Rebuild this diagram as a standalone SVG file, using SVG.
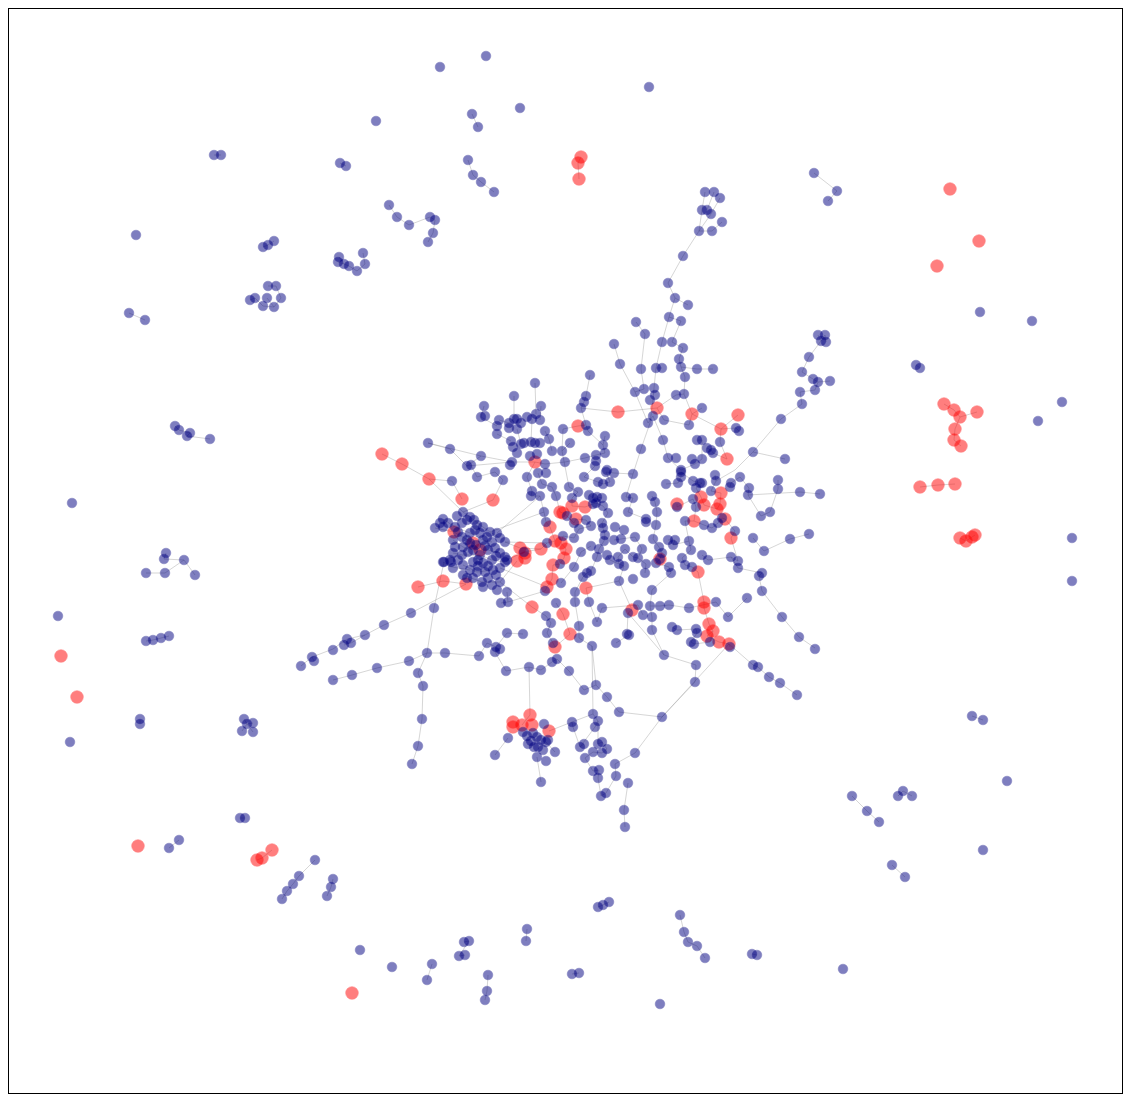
<svg xmlns="http://www.w3.org/2000/svg" width="1130" height="1101" viewBox="0 0 1130 1101">
<style>
.b{fill:#000080;stroke:#000080;stroke-width:0.6;opacity:0.5;r:4.8px}
.r{fill:#ff0000;stroke:#ff0000;stroke-width:0.6;opacity:0.5;r:6.3px}
.e{fill:none;stroke:#999999;stroke-width:1;opacity:0.4}
</style>
<rect x="0" y="0" width="1130" height="1101" fill="#ffffff"/>
<rect x="8.5" y="8.5" width="1114" height="1085" fill="none" stroke="#000" stroke-width="1"/>
<g id="connectors">
<path class="e" d="M472,114L478,127M468,160L473,175L481,182L494,192M214,155L221,155M340,163L346,166M389,205L397,217L409,225L430,217L435,220L433,233L428,242M263,247L268,245L274,241M339,257L344,264L349,266L357,271M363,253L365,264L357,271M338,262L344,264M268,286L276,286L281,298L274,307L263,306L255,298L250,300M267,298L274,307M129,313L145,320M814,173L837,191L828,201M916,365L920,368M175,426L179,430L190,433L187,436L210,439M166,553L164,559L184,560L195,575M146,573L165,573L184,560M146,641L153,640L161,638L169,636M140,719L140,724M244,719L247,724L253,723M242,731L247,724L253,732M972,716L983,720M852,796L867,811L879,822M898,796L903,791L912,796M169,848L179,840M240,818L245,818M315,860L299,876L293,884L287,891L282,899M333,879L331,887L327,896M892,865L905,877M598,907L603,905L609,902M680,915L684,932L688,942L697,946L705,958M464,942L469,941L459,956L465,955M527,929L526,941M488,975L487,991L485,1000M572,974L579,973M752,954L757,955M427,980L432,964M581,157L578,163L579,179M944,404L954,410L960,417L955,429L954,440L961,446M977,412L960,417M920,487L938,485L955,484M960,538L966,541L972,537L975,535M257,860L262,858L272,850"/>
<path class="e" d="M705,192L702,210L699,231L683,256L668,283L675,298L669,317L662,342L656,368L654,388L653,400L650,423L641,449M714,192L707,210M720,198L711,214L699,231M722,222L712,231L699,231M675,298L688,305M669,317L681,321L672,342L683,348L679,359L681,367L685,377L684,394L692,414M681,367L697,369L713,369M662,368L656,368M636,322L645,334L641,369L644,389L635,392M614,344L620,364L635,392L648,423L653,416M590,375L586,396L584,402L581,408L586,425L588,431L603,445L605,453M581,408L618,412L657,408L664,420L689,425L692,414L702,408M657,408L676,395L684,394M605,436L603,445M692,414L721,429L738,415M721,429L736,428L739,431M721,429L720,442L727,459L713,453L711,450L707,448M697,440L702,440L702,459L695,464L681,470L668,458L663,440L653,416M818,335L821,341L825,335L826,342M821,341L809,357L802,372L813,379L818,382L815,390L800,392L802,404L781,419L753,452L735,470L716,481M818,382L830,381M753,452L785,459M535,383L536,414M514,396L514,419M484,406L481,417L497,426M541,406L540,420M499,420L509,423L514,419M497,434L511,441M517,429L521,444M532,419L531,442M545,431L549,439L552,451M563,429L562,451L570,443M578,426L563,429M578,426L586,425M428,443L450,449L467,466L481,456L512,462L535,462L545,464L565,462L585,458L596,455L605,453M382,454L402,464L429,479L452,481L462,499M429,479L463,512M471,465L477,477L495,472L503,480L493,500L463,512M527,477L532,491L531,496L540,496L544,512L546,522L550,527L555,541L547,543L541,549L520,548L505,542M538,473L542,484L552,487L556,496L560,512L563,513L567,516L574,523L576,519L586,520L591,526L579,529L574,538L563,536L561,543L566,549L564,558L560,564L553,565L552,579L547,587L545,591M569,487L578,492L572,498L572,506L585,507L593,504L596,503L603,506L608,513L602,523L603,528L605,535L604,541L599,549L597,557L591,571L587,573L583,577L575,592L575,602L579,626L579,638L592,646M584,477L598,482L603,484L610,482L606,472L614,473L633,474L626,497L633,498L628,512L646,519L646,522M589,495L593,498L597,497L602,498M614,540L621,539L635,537L642,549L638,558L633,557L625,549L618,557L619,564L624,566L619,581L632,610L628,613L627,634L629,635L616,643M607,555L610,560L619,564M591,546L581,552L574,567L561,583M586,588L589,602L597,622L602,608M556,603L563,614L570,634L555,647L553,643L547,633L551,623L546,616L532,607M508,602L501,603M507,592L508,602M523,634L507,633L496,647L487,643L479,656L445,653L427,653L409,661L377,668L352,675L333,680M427,653L418,673L423,686L422,719L418,746L412,764M434,608L427,653M434,608L444,562M466,584L443,581L418,587M466,584L411,613L384,625L365,635L347,639L333,649L312,657L301,666M344,645L351,643L365,635M314,661L312,657M500,648L495,652L506,671L529,667L541,670L552,662L557,659L569,671L584,690L596,685L607,697L619,712M529,667L530,715L522,725M592,646L593,714L598,721L595,727L580,747L584,744M598,721L598,744L602,742L607,749L602,753L593,752L585,758L593,771L599,770L598,778L601,796L606,793L616,776L615,764L635,753L662,717L695,682L696,665L664,655L652,630M549,731L572,722L573,727L580,747M628,783L624,810L625,827M662,717L729,644L753,665L758,667L769,677L780,683L797,695M508,738L495,755M541,782L537,757M555,752L546,742M652,496L655,502L657,512L656,525L653,539L659,547L662,553L660,559L656,563L669,567L671,573L652,590L650,606L652,617L652,630M666,484L678,483L681,477L681,472L693,481L700,483L702,483L696,488L701,497L704,505L717,509L720,504L721,493L711,491L716,481L715,475M677,504L677,507L693,499L696,507L694,521L685,521L689,541L691,550L682,558L685,565L692,567L698,572L704,602L704,608L709,624L713,631L707,636L719,642L729,644L730,647M725,519L722,518L718,523L712,528L704,525L694,521M725,519L735,531L731,538L738,561L731,557L738,568L762,573L759,576L762,591L782,617L799,637L815,648M730,487L731,483L740,477L749,488L748,495L761,516L770,512L778,489L778,480M748,495L800,492L820,494M753,538L764,551L790,539L809,534M668,540L675,540L673,545L689,541M702,555L708,560L731,557M747,598L728,617L716,602L689,608L669,605L660,606L650,606M672,627L677,630L696,629L697,633L691,642L694,644L710,642L713,631M645,573L646,564L638,558M602,608L638,605L643,615M505,542L547,543M507,560L524,552L541,549M500,582L517,561M490,532L544,512M497,533L540,496M463,512L470,517L483,527L490,532L500,538M443,519L455,527L470,533L483,540L492,542M453,540L463,547L473,550L488,550L500,553M453,553L462,555L480,555L492,560L505,562M463,565L477,572L493,570M463,575L482,582L500,582M443,562L452,567L470,570M435,528L454,532L473,543L480,550M428,443L481,456M467,466L512,462M535,462L527,477M595,466L584,477M641,449L633,474M562,451L569,487M500,568L547,587M500,582L532,607M545,591L508,602M586,588L619,581M628,613L664,655M596,685L592,646M572,722L593,714M662,717L619,712"/>
</g>
<g id="nodes-red">
<circle id="r1" class="r" cx="581" cy="157"/><circle id="r2" class="r" cx="578" cy="163"/><circle id="r3" class="r" cx="579" cy="179"/>
<circle id="r4" class="r" cx="950" cy="189"/><circle id="r5" class="r" cx="979" cy="241"/><circle id="r6" class="r" cx="937" cy="266"/>
<circle id="r7" class="r" cx="944" cy="404"/><circle id="r8" class="r" cx="954" cy="410"/><circle id="r9" class="r" cx="977" cy="412"/><circle id="r10" class="r" cx="960" cy="417"/><circle id="r11" class="r" cx="955" cy="429"/><circle id="r12" class="r" cx="954" cy="440"/><circle id="r13" class="r" cx="961" cy="446"/>
<circle id="r14" class="r" cx="920" cy="487"/><circle id="r15" class="r" cx="938" cy="485"/><circle id="r16" class="r" cx="955" cy="484"/>
<circle id="r17" class="r" cx="960" cy="538"/><circle id="r18" class="r" cx="966" cy="541"/><circle id="r19" class="r" cx="972" cy="537"/><circle id="r20" class="r" cx="975" cy="535"/>
<circle id="r21" class="r" cx="61" cy="656"/><circle id="r22" class="r" cx="77" cy="697"/><circle id="r23" class="r" cx="138" cy="846"/><circle id="r24" class="r" cx="257" cy="860"/><circle id="r25" class="r" cx="262" cy="858"/><circle id="r26" class="r" cx="272" cy="850"/><circle id="r27" class="r" cx="352" cy="993"/>
<circle id="r28" class="r" cx="618" cy="412"/><circle id="r29" class="r" cx="578" cy="426"/><circle id="r30" class="r" cx="535" cy="462"/>
<circle id="r31" class="r" cx="657" cy="408"/><circle id="r32" class="r" cx="692" cy="414"/><circle id="r33" class="r" cx="738" cy="415"/><circle id="r34" class="r" cx="721" cy="429"/><circle id="r35" class="r" cx="727" cy="459"/>
<circle id="r36" class="r" cx="382" cy="454"/><circle id="r37" class="r" cx="402" cy="464"/><circle id="r38" class="r" cx="429" cy="479"/><circle id="r39" class="r" cx="462" cy="499"/><circle id="r40" class="r" cx="418" cy="587"/><circle id="r41" class="r" cx="443" cy="581"/><circle id="r42" class="r" cx="466" cy="584"/>
<circle id="r43" class="r" cx="493" cy="500"/><circle id="r44" class="r" cx="572" cy="506"/><circle id="r45" class="r" cx="585" cy="507"/><circle id="r46" class="r" cx="560" cy="512"/><circle id="r47" class="r" cx="563" cy="513"/><circle id="r48" class="r" cx="576" cy="519"/><circle id="r49" class="r" cx="550" cy="527"/><circle id="r50" class="r" cx="555" cy="541"/><circle id="r51" class="r" cx="561" cy="543"/><circle id="r52" class="r" cx="566" cy="549"/><circle id="r53" class="r" cx="541" cy="549"/><circle id="r54" class="r" cx="520" cy="548"/><circle id="r55" class="r" cx="525" cy="558"/><circle id="r56" class="r" cx="517" cy="561"/><circle id="r57" class="r" cx="564" cy="558"/><circle id="r58" class="r" cx="553" cy="565"/><circle id="r59" class="r" cx="552" cy="579"/><circle id="r60" class="r" cx="547" cy="587"/><circle id="r61" class="r" cx="586" cy="588"/><circle id="r62" class="r" cx="532" cy="607"/><circle id="r63" class="r" cx="563" cy="614"/><circle id="r64" class="r" cx="570" cy="634"/><circle id="r65" class="r" cx="632" cy="610"/><circle id="r66" class="r" cx="555" cy="647"/>
<circle id="r67" class="r" cx="721" cy="493"/><circle id="r68" class="r" cx="701" cy="497"/><circle id="r69" class="r" cx="704" cy="505"/><circle id="r70" class="r" cx="677" cy="504"/><circle id="r71" class="r" cx="720" cy="504"/><circle id="r72" class="r" cx="717" cy="509"/><circle id="r73" class="r" cx="725" cy="519"/><circle id="r74" class="r" cx="694" cy="521"/><circle id="r75" class="r" cx="731" cy="538"/><circle id="r76" class="r" cx="660" cy="559"/><circle id="r77" class="r" cx="698" cy="572"/><circle id="r78" class="r" cx="704" cy="602"/><circle id="r79" class="r" cx="704" cy="608"/><circle id="r80" class="r" cx="709" cy="624"/><circle id="r81" class="r" cx="713" cy="631"/><circle id="r82" class="r" cx="707" cy="636"/><circle id="r83" class="r" cx="719" cy="642"/><circle id="r84" class="r" cx="729" cy="644"/>
<circle id="r85" class="r" cx="530" cy="715"/><circle id="r86" class="r" cx="513" cy="722"/><circle id="r87" class="r" cx="513" cy="727"/><circle id="r88" class="r" cx="522" cy="725"/><circle id="r89" class="r" cx="532" cy="725"/><circle id="r90" class="r" cx="549" cy="731"/>
<circle id="r91" class="r" cx="454" cy="532"/><circle id="r92" class="r" cx="473" cy="543"/><circle id="r93" class="r" cx="480" cy="550"/><circle id="r94" class="r" cx="525" cy="553"/>
</g>
<g id="nodes-blue">
<circle id="b1" class="b" cx="486" cy="56"/><circle id="b2" class="b" cx="440" cy="67"/><circle id="b3" class="b" cx="649" cy="87"/><circle id="b4" class="b" cx="520" cy="108"/><circle id="b5" class="b" cx="376" cy="121"/><circle id="b6" class="b" cx="472" cy="114"/><circle id="b7" class="b" cx="478" cy="127"/><circle id="b8" class="b" cx="468" cy="160"/><circle id="b9" class="b" cx="473" cy="175"/><circle id="b10" class="b" cx="481" cy="182"/><circle id="b11" class="b" cx="494" cy="192"/>
<circle id="b12" class="b" cx="214" cy="155"/><circle id="b13" class="b" cx="221" cy="155"/><circle id="b14" class="b" cx="340" cy="163"/><circle id="b15" class="b" cx="346" cy="166"/><circle id="b16" class="b" cx="136" cy="235"/>
<circle id="b17" class="b" cx="389" cy="205"/><circle id="b18" class="b" cx="397" cy="217"/><circle id="b19" class="b" cx="409" cy="225"/><circle id="b20" class="b" cx="430" cy="217"/><circle id="b21" class="b" cx="435" cy="220"/><circle id="b22" class="b" cx="433" cy="233"/><circle id="b23" class="b" cx="428" cy="242"/>
<circle id="b24" class="b" cx="263" cy="247"/><circle id="b25" class="b" cx="268" cy="245"/><circle id="b26" class="b" cx="274" cy="241"/>
<circle id="b27" class="b" cx="339" cy="257"/><circle id="b28" class="b" cx="344" cy="264"/><circle id="b29" class="b" cx="349" cy="266"/><circle id="b30" class="b" cx="357" cy="271"/><circle id="b31" class="b" cx="363" cy="253"/><circle id="b32" class="b" cx="365" cy="264"/><circle id="b33" class="b" cx="338" cy="262"/>
<circle id="b34" class="b" cx="268" cy="286"/><circle id="b35" class="b" cx="276" cy="286"/><circle id="b36" class="b" cx="281" cy="298"/><circle id="b37" class="b" cx="250" cy="300"/><circle id="b38" class="b" cx="255" cy="298"/><circle id="b39" class="b" cx="263" cy="306"/><circle id="b40" class="b" cx="274" cy="307"/><circle id="b41" class="b" cx="267" cy="298"/>
<circle id="b42" class="b" cx="129" cy="313"/><circle id="b43" class="b" cx="145" cy="320"/><circle id="b44" class="b" cx="814" cy="173"/><circle id="b45" class="b" cx="837" cy="191"/><circle id="b46" class="b" cx="828" cy="201"/>
<circle id="b47" class="b" cx="980" cy="312"/><circle id="b48" class="b" cx="1032" cy="321"/><circle id="b49" class="b" cx="916" cy="365"/><circle id="b50" class="b" cx="920" cy="368"/><circle id="b51" class="b" cx="1062" cy="402"/><circle id="b52" class="b" cx="1038" cy="421"/><circle id="b53" class="b" cx="1072" cy="538"/><circle id="b54" class="b" cx="1072" cy="581"/>
<circle id="b55" class="b" cx="175" cy="426"/><circle id="b56" class="b" cx="179" cy="430"/><circle id="b57" class="b" cx="190" cy="433"/><circle id="b58" class="b" cx="187" cy="436"/><circle id="b59" class="b" cx="210" cy="439"/><circle id="b60" class="b" cx="72" cy="503"/>
<circle id="b61" class="b" cx="166" cy="553"/><circle id="b62" class="b" cx="164" cy="559"/><circle id="b63" class="b" cx="184" cy="560"/><circle id="b64" class="b" cx="146" cy="573"/><circle id="b65" class="b" cx="165" cy="573"/><circle id="b66" class="b" cx="195" cy="575"/><circle id="b67" class="b" cx="58" cy="616"/>
<circle id="b68" class="b" cx="146" cy="641"/><circle id="b69" class="b" cx="153" cy="640"/><circle id="b70" class="b" cx="161" cy="638"/><circle id="b71" class="b" cx="169" cy="636"/><circle id="b72" class="b" cx="140" cy="719"/><circle id="b73" class="b" cx="140" cy="724"/><circle id="b74" class="b" cx="70" cy="742"/>
<circle id="b75" class="b" cx="244" cy="719"/><circle id="b76" class="b" cx="247" cy="724"/><circle id="b77" class="b" cx="253" cy="723"/><circle id="b78" class="b" cx="242" cy="731"/><circle id="b79" class="b" cx="253" cy="732"/>
<circle id="b80" class="b" cx="972" cy="716"/><circle id="b81" class="b" cx="983" cy="720"/><circle id="b82" class="b" cx="1007" cy="781"/><circle id="b83" class="b" cx="852" cy="796"/><circle id="b84" class="b" cx="867" cy="811"/><circle id="b85" class="b" cx="879" cy="822"/><circle id="b86" class="b" cx="898" cy="796"/><circle id="b87" class="b" cx="903" cy="791"/><circle id="b88" class="b" cx="912" cy="796"/>
<circle id="b89" class="b" cx="169" cy="848"/><circle id="b90" class="b" cx="179" cy="840"/><circle id="b91" class="b" cx="240" cy="818"/><circle id="b92" class="b" cx="245" cy="818"/>
<circle id="b93" class="b" cx="315" cy="860"/><circle id="b94" class="b" cx="299" cy="876"/><circle id="b95" class="b" cx="293" cy="884"/><circle id="b96" class="b" cx="287" cy="891"/><circle id="b97" class="b" cx="282" cy="899"/><circle id="b98" class="b" cx="333" cy="879"/><circle id="b99" class="b" cx="331" cy="887"/><circle id="b100" class="b" cx="327" cy="896"/>
<circle id="b101" class="b" cx="892" cy="865"/><circle id="b102" class="b" cx="905" cy="877"/><circle id="b103" class="b" cx="983" cy="850"/><circle id="b104" class="b" cx="598" cy="907"/><circle id="b105" class="b" cx="603" cy="905"/><circle id="b106" class="b" cx="609" cy="902"/>
<circle id="b107" class="b" cx="680" cy="915"/><circle id="b108" class="b" cx="684" cy="932"/><circle id="b109" class="b" cx="688" cy="942"/><circle id="b110" class="b" cx="697" cy="946"/><circle id="b111" class="b" cx="705" cy="958"/>
<circle id="b112" class="b" cx="464" cy="942"/><circle id="b113" class="b" cx="469" cy="941"/><circle id="b114" class="b" cx="527" cy="929"/><circle id="b115" class="b" cx="526" cy="941"/><circle id="b116" class="b" cx="360" cy="950"/><circle id="b117" class="b" cx="392" cy="967"/><circle id="b118" class="b" cx="432" cy="964"/><circle id="b119" class="b" cx="427" cy="980"/><circle id="b120" class="b" cx="459" cy="956"/><circle id="b121" class="b" cx="465" cy="955"/><circle id="b122" class="b" cx="488" cy="975"/><circle id="b123" class="b" cx="487" cy="991"/><circle id="b124" class="b" cx="485" cy="1000"/>
<circle id="b125" class="b" cx="572" cy="974"/><circle id="b126" class="b" cx="579" cy="973"/><circle id="b127" class="b" cx="752" cy="954"/><circle id="b128" class="b" cx="757" cy="955"/><circle id="b129" class="b" cx="843" cy="969"/><circle id="b130" class="b" cx="660" cy="1004"/>
<circle id="b131" class="b" cx="636" cy="322"/><circle id="b132" class="b" cx="645" cy="334"/><circle id="b133" class="b" cx="614" cy="344"/><circle id="b134" class="b" cx="620" cy="364"/><circle id="b135" class="b" cx="641" cy="369"/><circle id="b136" class="b" cx="644" cy="389"/><circle id="b137" class="b" cx="635" cy="392"/><circle id="b138" class="b" cx="650" cy="400"/><circle id="b139" class="b" cx="648" cy="423"/>
<circle id="b140" class="b" cx="590" cy="375"/><circle id="b141" class="b" cx="586" cy="396"/><circle id="b142" class="b" cx="584" cy="402"/><circle id="b143" class="b" cx="581" cy="408"/><circle id="b144" class="b" cx="586" cy="425"/><circle id="b145" class="b" cx="588" cy="431"/>
<circle id="b146" class="b" cx="535" cy="383"/><circle id="b147" class="b" cx="514" cy="396"/><circle id="b148" class="b" cx="484" cy="406"/><circle id="b149" class="b" cx="541" cy="406"/><circle id="b150" class="b" cx="481" cy="417"/><circle id="b151" class="b" cx="485" cy="416"/><circle id="b152" class="b" cx="499" cy="420"/><circle id="b153" class="b" cx="497" cy="426"/><circle id="b154" class="b" cx="497" cy="434"/><circle id="b155" class="b" cx="509" cy="423"/><circle id="b156" class="b" cx="514" cy="419"/><circle id="b157" class="b" cx="517" cy="419"/><circle id="b158" class="b" cx="521" cy="423"/><circle id="b159" class="b" cx="527" cy="417"/><circle id="b160" class="b" cx="532" cy="419"/><circle id="b161" class="b" cx="536" cy="414"/><circle id="b162" class="b" cx="540" cy="420"/><circle id="b163" class="b" cx="509" cy="428"/><circle id="b164" class="b" cx="517" cy="429"/>
<circle id="b165" class="b" cx="545" cy="431"/><circle id="b166" class="b" cx="563" cy="429"/><circle id="b167" class="b" cx="549" cy="439"/><circle id="b168" class="b" cx="605" cy="436"/><circle id="b169" class="b" cx="603" cy="445"/><circle id="b170" class="b" cx="605" cy="453"/><circle id="b171" class="b" cx="641" cy="449"/>
<circle id="b172" class="b" cx="511" cy="441"/><circle id="b173" class="b" cx="513" cy="447"/><circle id="b174" class="b" cx="521" cy="444"/><circle id="b175" class="b" cx="524" cy="443"/><circle id="b176" class="b" cx="531" cy="442"/><circle id="b177" class="b" cx="535" cy="443"/><circle id="b178" class="b" cx="540" cy="443"/><circle id="b179" class="b" cx="517" cy="453"/><circle id="b180" class="b" cx="530" cy="456"/><circle id="b181" class="b" cx="537" cy="454"/><circle id="b182" class="b" cx="552" cy="451"/><circle id="b183" class="b" cx="562" cy="451"/><circle id="b184" class="b" cx="570" cy="443"/>
<circle id="b185" class="b" cx="481" cy="456"/><circle id="b186" class="b" cx="512" cy="462"/><circle id="b187" class="b" cx="510" cy="465"/><circle id="b188" class="b" cx="545" cy="464"/><circle id="b189" class="b" cx="565" cy="462"/><circle id="b190" class="b" cx="585" cy="458"/><circle id="b191" class="b" cx="596" cy="455"/><circle id="b192" class="b" cx="596" cy="461"/><circle id="b193" class="b" cx="595" cy="466"/><circle id="b194" class="b" cx="607" cy="470"/><circle id="b195" class="b" cx="471" cy="465"/>
<circle id="b196" class="b" cx="675" cy="298"/><circle id="b197" class="b" cx="688" cy="305"/><circle id="b198" class="b" cx="669" cy="317"/><circle id="b199" class="b" cx="681" cy="321"/><circle id="b200" class="b" cx="662" cy="342"/><circle id="b201" class="b" cx="672" cy="342"/><circle id="b202" class="b" cx="683" cy="348"/><circle id="b203" class="b" cx="679" cy="359"/><circle id="b204" class="b" cx="681" cy="367"/><circle id="b205" class="b" cx="656" cy="368"/><circle id="b206" class="b" cx="662" cy="368"/><circle id="b207" class="b" cx="697" cy="369"/><circle id="b208" class="b" cx="713" cy="369"/><circle id="b209" class="b" cx="685" cy="377"/>
<circle id="b210" class="b" cx="654" cy="388"/><circle id="b211" class="b" cx="655" cy="395"/><circle id="b212" class="b" cx="676" cy="395"/><circle id="b213" class="b" cx="684" cy="394"/><circle id="b214" class="b" cx="653" cy="416"/><circle id="b215" class="b" cx="664" cy="420"/><circle id="b216" class="b" cx="689" cy="425"/><circle id="b217" class="b" cx="702" cy="408"/><circle id="b218" class="b" cx="736" cy="428"/><circle id="b219" class="b" cx="739" cy="431"/>
<circle id="b220" class="b" cx="663" cy="440"/><circle id="b221" class="b" cx="697" cy="440"/><circle id="b222" class="b" cx="702" cy="440"/><circle id="b223" class="b" cx="720" cy="442"/><circle id="b224" class="b" cx="707" cy="448"/><circle id="b225" class="b" cx="711" cy="450"/><circle id="b226" class="b" cx="713" cy="453"/><circle id="b227" class="b" cx="668" cy="458"/><circle id="b228" class="b" cx="676" cy="458"/><circle id="b229" class="b" cx="692" cy="459"/><circle id="b230" class="b" cx="702" cy="459"/><circle id="b231" class="b" cx="695" cy="464"/><circle id="b232" class="b" cx="681" cy="470"/>
<circle id="b233" class="b" cx="753" cy="452"/><circle id="b234" class="b" cx="785" cy="459"/><circle id="b235" class="b" cx="781" cy="419"/><circle id="b236" class="b" cx="802" cy="404"/><circle id="b237" class="b" cx="800" cy="392"/><circle id="b238" class="b" cx="815" cy="390"/><circle id="b239" class="b" cx="818" cy="382"/><circle id="b240" class="b" cx="813" cy="379"/><circle id="b241" class="b" cx="802" cy="372"/><circle id="b242" class="b" cx="809" cy="357"/><circle id="b243" class="b" cx="818" cy="335"/><circle id="b244" class="b" cx="825" cy="335"/><circle id="b245" class="b" cx="821" cy="341"/><circle id="b246" class="b" cx="826" cy="342"/><circle id="b247" class="b" cx="830" cy="381"/>
<circle id="b248" class="b" cx="705" cy="192"/><circle id="b249" class="b" cx="714" cy="192"/><circle id="b250" class="b" cx="720" cy="198"/><circle id="b251" class="b" cx="702" cy="210"/><circle id="b252" class="b" cx="707" cy="210"/><circle id="b253" class="b" cx="711" cy="214"/><circle id="b254" class="b" cx="722" cy="222"/><circle id="b255" class="b" cx="699" cy="231"/><circle id="b256" class="b" cx="712" cy="231"/><circle id="b257" class="b" cx="683" cy="256"/><circle id="b258" class="b" cx="668" cy="283"/>
<circle id="b259" class="b" cx="428" cy="443"/><circle id="b260" class="b" cx="450" cy="449"/><circle id="b261" class="b" cx="467" cy="466"/><circle id="b262" class="b" cx="452" cy="481"/>
<circle id="b263" class="b" cx="444" cy="562"/><circle id="b264" class="b" cx="451" cy="562"/><circle id="b265" class="b" cx="453" cy="568"/><circle id="b266" class="b" cx="434" cy="608"/><circle id="b267" class="b" cx="411" cy="613"/><circle id="b268" class="b" cx="384" cy="625"/><circle id="b269" class="b" cx="365" cy="635"/><circle id="b270" class="b" cx="347" cy="639"/><circle id="b271" class="b" cx="344" cy="645"/><circle id="b272" class="b" cx="351" cy="643"/><circle id="b273" class="b" cx="333" cy="650"/>
<circle id="b274" class="b" cx="312" cy="657"/><circle id="b275" class="b" cx="314" cy="661"/><circle id="b276" class="b" cx="301" cy="666"/><circle id="b277" class="b" cx="333" cy="680"/><circle id="b278" class="b" cx="352" cy="675"/><circle id="b279" class="b" cx="377" cy="668"/><circle id="b280" class="b" cx="409" cy="661"/><circle id="b281" class="b" cx="427" cy="653"/><circle id="b282" class="b" cx="445" cy="653"/><circle id="b283" class="b" cx="418" cy="673"/><circle id="b284" class="b" cx="423" cy="686"/><circle id="b285" class="b" cx="422" cy="719"/><circle id="b286" class="b" cx="418" cy="746"/><circle id="b287" class="b" cx="412" cy="764"/>
<circle id="b288" class="b" cx="503" cy="480"/><circle id="b289" class="b" cx="477" cy="477"/><circle id="b290" class="b" cx="495" cy="472"/><circle id="b291" class="b" cx="527" cy="477"/><circle id="b292" class="b" cx="538" cy="473"/><circle id="b293" class="b" cx="546" cy="473"/><circle id="b294" class="b" cx="542" cy="484"/><circle id="b295" class="b" cx="552" cy="487"/><circle id="b296" class="b" cx="532" cy="491"/><circle id="b297" class="b" cx="531" cy="496"/><circle id="b298" class="b" cx="540" cy="496"/><circle id="b299" class="b" cx="556" cy="496"/><circle id="b300" class="b" cx="569" cy="487"/><circle id="b301" class="b" cx="578" cy="492"/><circle id="b302" class="b" cx="572" cy="498"/><circle id="b303" class="b" cx="584" cy="477"/><circle id="b304" class="b" cx="598" cy="482"/><circle id="b305" class="b" cx="603" cy="484"/><circle id="b306" class="b" cx="610" cy="482"/><circle id="b307" class="b" cx="606" cy="472"/><circle id="b308" class="b" cx="614" cy="473"/><circle id="b309" class="b" cx="633" cy="474"/>
<circle id="b310" class="b" cx="589" cy="495"/><circle id="b311" class="b" cx="593" cy="498"/><circle id="b312" class="b" cx="597" cy="497"/><circle id="b313" class="b" cx="602" cy="498"/><circle id="b314" class="b" cx="593" cy="504"/><circle id="b315" class="b" cx="603" cy="506"/><circle id="b316" class="b" cx="596" cy="503"/><circle id="b317" class="b" cx="626" cy="497"/><circle id="b318" class="b" cx="633" cy="498"/><circle id="b319" class="b" cx="574" cy="523"/><circle id="b320" class="b" cx="567" cy="516"/>
<circle id="b321" class="b" cx="544" cy="512"/><circle id="b322" class="b" cx="546" cy="522"/><circle id="b323" class="b" cx="586" cy="520"/><circle id="b324" class="b" cx="608" cy="513"/><circle id="b325" class="b" cx="602" cy="523"/><circle id="b326" class="b" cx="603" cy="528"/><circle id="b327" class="b" cx="579" cy="529"/><circle id="b328" class="b" cx="591" cy="526"/><circle id="b329" class="b" cx="615" cy="527"/><circle id="b330" class="b" cx="624" cy="530"/><circle id="b331" class="b" cx="628" cy="512"/><circle id="b332" class="b" cx="646" cy="519"/><circle id="b333" class="b" cx="646" cy="522"/>
<circle id="b334" class="b" cx="605" cy="535"/><circle id="b335" class="b" cx="604" cy="541"/><circle id="b336" class="b" cx="614" cy="540"/><circle id="b337" class="b" cx="621" cy="539"/><circle id="b338" class="b" cx="635" cy="537"/><circle id="b339" class="b" cx="563" cy="536"/><circle id="b340" class="b" cx="574" cy="538"/><circle id="b341" class="b" cx="524" cy="552"/><circle id="b342" class="b" cx="547" cy="543"/>
<circle id="b343" class="b" cx="581" cy="552"/><circle id="b344" class="b" cx="591" cy="546"/><circle id="b345" class="b" cx="599" cy="549"/><circle id="b346" class="b" cx="607" cy="555"/><circle id="b347" class="b" cx="625" cy="549"/><circle id="b348" class="b" cx="618" cy="557"/><circle id="b349" class="b" cx="633" cy="557"/><circle id="b350" class="b" cx="638" cy="558"/><circle id="b351" class="b" cx="642" cy="549"/><circle id="b352" class="b" cx="597" cy="557"/>
<circle id="b353" class="b" cx="560" cy="564"/><circle id="b354" class="b" cx="574" cy="567"/><circle id="b355" class="b" cx="587" cy="573"/><circle id="b356" class="b" cx="591" cy="571"/><circle id="b357" class="b" cx="583" cy="577"/><circle id="b358" class="b" cx="610" cy="560"/><circle id="b359" class="b" cx="619" cy="564"/><circle id="b360" class="b" cx="624" cy="566"/><circle id="b361" class="b" cx="619" cy="581"/><circle id="b362" class="b" cx="633" cy="579"/><circle id="b363" class="b" cx="645" cy="573"/><circle id="b364" class="b" cx="646" cy="564"/>
<circle id="b365" class="b" cx="545" cy="591"/><circle id="b366" class="b" cx="561" cy="583"/><circle id="b367" class="b" cx="575" cy="592"/><circle id="b368" class="b" cx="589" cy="602"/><circle id="b369" class="b" cx="575" cy="602"/><circle id="b370" class="b" cx="556" cy="603"/><circle id="b371" class="b" cx="508" cy="602"/><circle id="b372" class="b" cx="501" cy="603"/>
<circle id="b373" class="b" cx="602" cy="608"/><circle id="b374" class="b" cx="628" cy="613"/><circle id="b375" class="b" cx="638" cy="605"/><circle id="b376" class="b" cx="643" cy="615"/><circle id="b377" class="b" cx="546" cy="616"/><circle id="b378" class="b" cx="551" cy="623"/><circle id="b379" class="b" cx="597" cy="622"/><circle id="b380" class="b" cx="579" cy="626"/><circle id="b381" class="b" cx="627" cy="634"/><circle id="b382" class="b" cx="629" cy="635"/><circle id="b383" class="b" cx="616" cy="643"/><circle id="b384" class="b" cx="592" cy="646"/><circle id="b385" class="b" cx="579" cy="638"/>
<circle id="b386" class="b" cx="507" cy="633"/><circle id="b387" class="b" cx="523" cy="634"/><circle id="b388" class="b" cx="487" cy="643"/><circle id="b389" class="b" cx="496" cy="647"/><circle id="b390" class="b" cx="500" cy="649"/><circle id="b391" class="b" cx="553" cy="643"/><circle id="b392" class="b" cx="547" cy="633"/>
<circle id="b393" class="b" cx="666" cy="484"/><circle id="b394" class="b" cx="678" cy="483"/><circle id="b395" class="b" cx="681" cy="472"/><circle id="b396" class="b" cx="681" cy="477"/><circle id="b397" class="b" cx="693" cy="481"/><circle id="b398" class="b" cx="700" cy="483"/><circle id="b399" class="b" cx="702" cy="483"/><circle id="b400" class="b" cx="696" cy="488"/><circle id="b401" class="b" cx="711" cy="491"/><circle id="b402" class="b" cx="715" cy="475"/><circle id="b403" class="b" cx="716" cy="481"/><circle id="b404" class="b" cx="731" cy="483"/><circle id="b405" class="b" cx="730" cy="487"/><circle id="b406" class="b" cx="740" cy="477"/><circle id="b407" class="b" cx="749" cy="488"/><circle id="b408" class="b" cx="748" cy="495"/><circle id="b409" class="b" cx="778" cy="480"/><circle id="b410" class="b" cx="778" cy="489"/><circle id="b411" class="b" cx="800" cy="492"/><circle id="b412" class="b" cx="820" cy="494"/>
<circle id="b413" class="b" cx="652" cy="496"/><circle id="b414" class="b" cx="655" cy="502"/><circle id="b415" class="b" cx="677" cy="507"/><circle id="b416" class="b" cx="693" cy="499"/><circle id="b417" class="b" cx="696" cy="507"/><circle id="b418" class="b" cx="685" cy="521"/><circle id="b419" class="b" cx="704" cy="525"/><circle id="b420" class="b" cx="712" cy="528"/><circle id="b421" class="b" cx="718" cy="523"/><circle id="b422" class="b" cx="722" cy="518"/><circle id="b423" class="b" cx="657" cy="512"/><circle id="b424" class="b" cx="656" cy="525"/><circle id="b425" class="b" cx="761" cy="516"/><circle id="b426" class="b" cx="770" cy="512"/><circle id="b427" class="b" cx="735" cy="531"/><circle id="b428" class="b" cx="753" cy="538"/><circle id="b429" class="b" cx="790" cy="539"/><circle id="b430" class="b" cx="809" cy="534"/><circle id="b431" class="b" cx="764" cy="551"/>
<circle id="b432" class="b" cx="653" cy="539"/><circle id="b433" class="b" cx="668" cy="540"/><circle id="b434" class="b" cx="675" cy="540"/><circle id="b435" class="b" cx="673" cy="545"/><circle id="b436" class="b" cx="689" cy="541"/><circle id="b437" class="b" cx="691" cy="550"/><circle id="b438" class="b" cx="659" cy="547"/><circle id="b439" class="b" cx="662" cy="553"/><circle id="b440" class="b" cx="682" cy="558"/><circle id="b441" class="b" cx="702" cy="555"/><circle id="b442" class="b" cx="708" cy="560"/><circle id="b443" class="b" cx="685" cy="565"/><circle id="b444" class="b" cx="692" cy="567"/><circle id="b445" class="b" cx="731" cy="557"/><circle id="b446" class="b" cx="738" cy="561"/><circle id="b447" class="b" cx="738" cy="568"/><circle id="b448" class="b" cx="656" cy="563"/><circle id="b449" class="b" cx="669" cy="567"/><circle id="b450" class="b" cx="671" cy="573"/><circle id="b451" class="b" cx="660" cy="559"/>
<circle id="b452" class="b" cx="762" cy="573"/><circle id="b453" class="b" cx="759" cy="576"/><circle id="b454" class="b" cx="762" cy="591"/><circle id="b455" class="b" cx="747" cy="598"/><circle id="b456" class="b" cx="716" cy="602"/><circle id="b457" class="b" cx="689" cy="608"/><circle id="b458" class="b" cx="728" cy="617"/><circle id="b459" class="b" cx="652" cy="590"/><circle id="b460" class="b" cx="650" cy="606"/><circle id="b461" class="b" cx="660" cy="606"/><circle id="b462" class="b" cx="669" cy="605"/><circle id="b463" class="b" cx="652" cy="617"/>
<circle id="b464" class="b" cx="672" cy="627"/><circle id="b465" class="b" cx="677" cy="630"/><circle id="b466" class="b" cx="696" cy="629"/><circle id="b467" class="b" cx="697" cy="633"/><circle id="b468" class="b" cx="652" cy="630"/><circle id="b469" class="b" cx="691" cy="642"/><circle id="b470" class="b" cx="694" cy="644"/><circle id="b471" class="b" cx="710" cy="642"/><circle id="b472" class="b" cx="782" cy="617"/><circle id="b473" class="b" cx="799" cy="637"/><circle id="b474" class="b" cx="815" cy="649"/><circle id="b475" class="b" cx="730" cy="647"/>
<circle id="b476" class="b" cx="479" cy="656"/><circle id="b477" class="b" cx="495" cy="652"/><circle id="b478" class="b" cx="529" cy="667"/><circle id="b479" class="b" cx="506" cy="671"/><circle id="b480" class="b" cx="541" cy="670"/><circle id="b481" class="b" cx="552" cy="662"/><circle id="b482" class="b" cx="557" cy="659"/><circle id="b483" class="b" cx="569" cy="671"/><circle id="b484" class="b" cx="584" cy="690"/><circle id="b485" class="b" cx="596" cy="685"/><circle id="b486" class="b" cx="607" cy="697"/><circle id="b487" class="b" cx="619" cy="712"/><circle id="b488" class="b" cx="593" cy="714"/><circle id="b489" class="b" cx="598" cy="721"/><circle id="b490" class="b" cx="595" cy="727"/><circle id="b491" class="b" cx="572" cy="722"/><circle id="b492" class="b" cx="573" cy="727"/><circle id="b493" class="b" cx="544" cy="724"/>
<circle id="b494" class="b" cx="523" cy="732"/><circle id="b495" class="b" cx="527" cy="736"/><circle id="b496" class="b" cx="533" cy="733"/><circle id="b497" class="b" cx="537" cy="737"/><circle id="b498" class="b" cx="541" cy="740"/><circle id="b499" class="b" cx="531" cy="741"/><circle id="b500" class="b" cx="528" cy="744"/><circle id="b501" class="b" cx="534" cy="747"/><circle id="b502" class="b" cx="538" cy="747"/><circle id="b503" class="b" cx="543" cy="750"/><circle id="b504" class="b" cx="546" cy="742"/><circle id="b505" class="b" cx="548" cy="740"/><circle id="b506" class="b" cx="508" cy="738"/><circle id="b507" class="b" cx="495" cy="755"/><circle id="b508" class="b" cx="555" cy="752"/><circle id="b509" class="b" cx="537" cy="757"/><circle id="b510" class="b" cx="546" cy="761"/><circle id="b511" class="b" cx="541" cy="782"/>
<circle id="b512" class="b" cx="580" cy="747"/><circle id="b513" class="b" cx="584" cy="744"/><circle id="b514" class="b" cx="598" cy="744"/><circle id="b515" class="b" cx="602" cy="742"/><circle id="b516" class="b" cx="607" cy="749"/><circle id="b517" class="b" cx="593" cy="752"/><circle id="b518" class="b" cx="602" cy="753"/><circle id="b519" class="b" cx="585" cy="758"/><circle id="b520" class="b" cx="593" cy="771"/><circle id="b521" class="b" cx="599" cy="770"/><circle id="b522" class="b" cx="598" cy="778"/><circle id="b523" class="b" cx="615" cy="764"/><circle id="b524" class="b" cx="616" cy="776"/><circle id="b525" class="b" cx="601" cy="796"/><circle id="b526" class="b" cx="606" cy="793"/><circle id="b527" class="b" cx="628" cy="783"/><circle id="b528" class="b" cx="635" cy="753"/><circle id="b529" class="b" cx="624" cy="810"/><circle id="b530" class="b" cx="625" cy="827"/>
<circle id="b531" class="b" cx="664" cy="655"/><circle id="b532" class="b" cx="696" cy="665"/><circle id="b533" class="b" cx="695" cy="682"/><circle id="b534" class="b" cx="662" cy="717"/><circle id="b535" class="b" cx="753" cy="665"/><circle id="b536" class="b" cx="758" cy="667"/><circle id="b537" class="b" cx="769" cy="677"/><circle id="b538" class="b" cx="780" cy="683"/><circle id="b539" class="b" cx="797" cy="695"/>
<circle id="b540" class="b" cx="463" cy="512"/><circle id="b541" class="b" cx="470" cy="517"/><circle id="b542" class="b" cx="443" cy="519"/><circle id="b543" class="b" cx="440" cy="523"/><circle id="b544" class="b" cx="435" cy="528"/><circle id="b545" class="b" cx="443" cy="527"/><circle id="b546" class="b" cx="455" cy="527"/><circle id="b547" class="b" cx="462" cy="523"/><circle id="b548" class="b" cx="477" cy="525"/><circle id="b549" class="b" cx="483" cy="527"/><circle id="b550" class="b" cx="490" cy="532"/><circle id="b551" class="b" cx="497" cy="533"/><circle id="b552" class="b" cx="500" cy="538"/><circle id="b553" class="b" cx="505" cy="542"/>
<circle id="b554" class="b" cx="453" cy="540"/><circle id="b555" class="b" cx="462" cy="537"/><circle id="b556" class="b" cx="470" cy="533"/><circle id="b557" class="b" cx="480" cy="533"/><circle id="b558" class="b" cx="483" cy="540"/><circle id="b559" class="b" cx="492" cy="542"/><circle id="b560" class="b" cx="470" cy="543"/><circle id="b561" class="b" cx="473" cy="550"/><circle id="b562" class="b" cx="463" cy="547"/><circle id="b563" class="b" cx="455" cy="547"/><circle id="b564" class="b" cx="453" cy="553"/><circle id="b565" class="b" cx="462" cy="555"/><circle id="b566" class="b" cx="480" cy="555"/><circle id="b567" class="b" cx="488" cy="550"/><circle id="b568" class="b" cx="495" cy="548"/><circle id="b569" class="b" cx="500" cy="553"/><circle id="b570" class="b" cx="505" cy="557"/>
<circle id="b571" class="b" cx="492" cy="560"/><circle id="b572" class="b" cx="483" cy="563"/><circle id="b573" class="b" cx="473" cy="562"/><circle id="b574" class="b" cx="463" cy="565"/><circle id="b575" class="b" cx="470" cy="570"/><circle id="b576" class="b" cx="477" cy="572"/><circle id="b577" class="b" cx="485" cy="572"/><circle id="b578" class="b" cx="493" cy="570"/><circle id="b579" class="b" cx="500" cy="568"/><circle id="b580" class="b" cx="505" cy="562"/><circle id="b581" class="b" cx="507" cy="560"/>
<circle id="b582" class="b" cx="443" cy="562"/><circle id="b583" class="b" cx="450" cy="560"/><circle id="b584" class="b" cx="463" cy="575"/><circle id="b585" class="b" cx="473" cy="578"/><circle id="b586" class="b" cx="482" cy="582"/><circle id="b587" class="b" cx="492" cy="585"/><circle id="b588" class="b" cx="483" cy="587"/><circle id="b589" class="b" cx="500" cy="582"/><circle id="b590" class="b" cx="507" cy="592"/>
<circle id="b591" class="b" cx="467" cy="520"/><circle id="b592" class="b" cx="475" cy="530"/><circle id="b593" class="b" cx="487" cy="537"/><circle id="b594" class="b" cx="467" cy="540"/><circle id="b595" class="b" cx="458" cy="532"/><circle id="b596" class="b" cx="476" cy="545"/><circle id="b597" class="b" cx="485" cy="546"/><circle id="b598" class="b" cx="468" cy="552"/><circle id="b599" class="b" cx="458" cy="560"/><circle id="b600" class="b" cx="478" cy="560"/><circle id="b601" class="b" cx="488" cy="566"/><circle id="b602" class="b" cx="496" cy="575"/><circle id="b603" class="b" cx="478" cy="566"/><circle id="b604" class="b" cx="467" cy="578"/><circle id="b605" class="b" cx="488" cy="578"/><circle id="b606" class="b" cx="496" cy="556"/><circle id="b607" class="b" cx="457" cy="516"/><circle id="b608" class="b" cx="448" cy="523"/><circle id="b609" class="b" cx="474" cy="520"/><circle id="b610" class="b" cx="497" cy="590"/>
</g>
</svg>
